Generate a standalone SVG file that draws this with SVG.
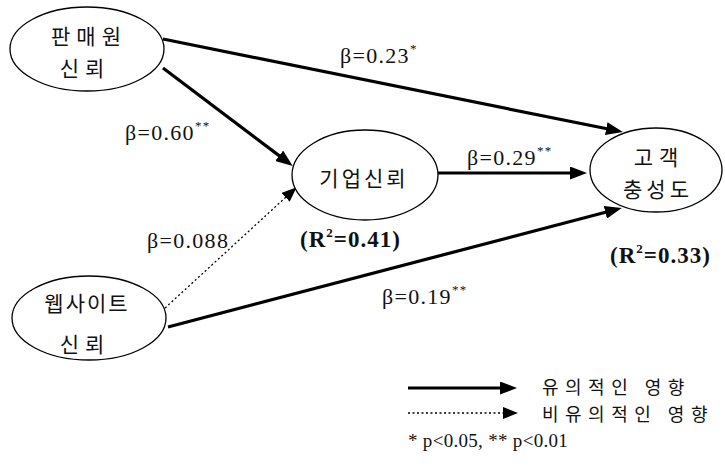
<svg xmlns="http://www.w3.org/2000/svg" width="725" height="474" viewBox="0 0 725 474">
<defs>
<style>
.node ellipse{fill:#fff;stroke:#000;stroke-width:1.3}
.kr{font-family:"Noto Sans CJK KR","Noto Sans",sans-serif;font-size:21px;fill:#111;text-anchor:middle;letter-spacing:6px}
.krl{font-family:"Noto Sans CJK KR","Noto Sans",sans-serif;font-size:18px;fill:#111;letter-spacing:6.5px}
.lbl{font-family:"Liberation Serif","DejaVu Serif",serif;font-size:22px;fill:#111;letter-spacing:1.3px}
.sup{font-size:13px}
.r2{font-family:"Liberation Serif","DejaVu Serif",serif;font-size:23px;font-weight:bold;fill:#111;letter-spacing:1px}
.note{font-family:"Liberation Serif","DejaVu Serif",serif;font-size:19px;fill:#111;letter-spacing:0.3px}
.solid{fill:none;stroke:#000;stroke-width:3.2;marker-end:url(#ah)}
.dot{fill:none;stroke:#000;stroke-width:1.3;stroke-dasharray:2 2.5;marker-end:url(#ah2)}
</style>
<marker id="ah" markerUnits="userSpaceOnUse" markerWidth="17" markerHeight="13" refX="11" refY="6.5" orient="auto" viewBox="0 0 17 13">
<path d="M0,0 L17,6.5 L0,13 z" fill="#000"/>
</marker>
<marker id="ah2" markerUnits="userSpaceOnUse" markerWidth="15" markerHeight="12" refX="8" refY="6" orient="auto" viewBox="0 0 15 12">
<path d="M0,0 L15,6 L0,12 z" fill="#000"/>
</marker>
</defs>
<rect width="725" height="474" fill="#fff"/>

<g id="connectors">
<line class="solid" x1="163" y1="39" x2="617" y2="130.8"/>
<line class="solid" x1="163" y1="68" x2="288" y2="162.4"/>
<line class="dot" x1="165" y1="308" x2="291.5" y2="192"/>
<line class="solid" x1="438" y1="173" x2="581" y2="173"/>
<line class="solid" x1="168" y1="327" x2="616" y2="209.5"/>
</g>

<g id="node-salesperson" class="node">
<ellipse cx="87" cy="49" rx="77" ry="42"/>
<text class="kr" x="89" y="44">판매원</text>
<text class="kr" x="85" y="76">신뢰</text>
</g>
<g id="node-company" class="node">
<ellipse cx="365" cy="175" rx="73" ry="45"/>
<text class="kr" x="364" y="186" style="letter-spacing:3px">기업신뢰</text>
</g>
<g id="node-loyalty" class="node">
<ellipse cx="656" cy="170" rx="66" ry="42"/>
<text class="kr" x="659" y="165">고객</text>
<text class="kr" x="658" y="197" style="letter-spacing:4px">충성도</text>
</g>
<g id="node-website" class="node">
<ellipse cx="89" cy="318" rx="77" ry="42"/>
<text class="kr" x="87" y="311" style="letter-spacing:2px">웹사이트</text>
<text class="kr" x="85" y="352">신뢰</text>
</g>

<g id="labels">
<text class="lbl" x="340" y="63">β=0.23<tspan class="sup" dy="-10">*</tspan></text>
<text class="lbl" x="125" y="140">β=0.60<tspan class="sup" dy="-10">**</tspan></text>
<text class="lbl" x="467" y="165">β=0.29<tspan class="sup" dy="-10">**</tspan></text>
<text class="lbl" x="147" y="248">β=0.088</text>
<text class="lbl" x="382" y="304">β=0.19<tspan class="sup" dy="-10">**</tspan></text>
<text class="r2" x="300" y="247">(R<tspan class="sup" dy="-10">2</tspan><tspan dy="10">=0.41)</tspan></text>
<text class="r2" x="610" y="263">(R<tspan class="sup" dy="-10">2</tspan><tspan dy="10">=0.33)</tspan></text>
</g>

<g id="legend">
<line class="solid" x1="408" y1="388" x2="511" y2="388"/>
<text class="krl" x="542" y="394">유의적인 영향</text>
<line class="dot" x1="408" y1="413" x2="511" y2="413"/>
<text class="krl" x="542" y="421">비유의적인 영향</text>
<text class="note" x="408" y="447">* p&lt;0.05, ** p&lt;0.01</text>
</g>
</svg>
